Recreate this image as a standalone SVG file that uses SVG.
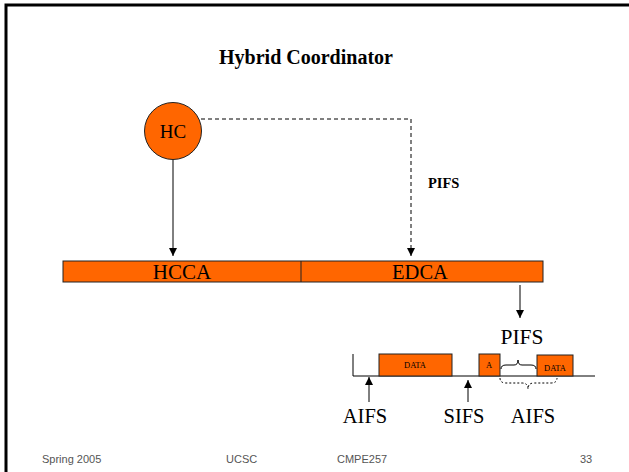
<svg xmlns="http://www.w3.org/2000/svg" width="629" height="472" viewBox="0 0 629 472">
<defs>
<marker id="ah" viewBox="0 0 10 10" refX="10" refY="5" markerWidth="8" markerHeight="8" markerUnits="userSpaceOnUse" orient="auto">
<path d="M0,0 L10,5 L0,10 z" fill="#000"/>
</marker>
</defs>
<style>
.serif{font-family:"Liberation Serif","Times New Roman",serif;fill:#000}
.foot{font-family:"Liberation Sans",Arial,sans-serif;font-size:11px;fill:#555}
.box{fill:#ff6600;stroke:#222;stroke-width:1}
.ln{stroke:#000;stroke-width:1;fill:none}
</style>
<rect width="629" height="472" fill="#fff"/>
<path d="M6,472 V5 H629" fill="none" stroke="#000" stroke-width="3"/>
<text class="serif" x="306" y="64" font-size="20" font-weight="bold" text-anchor="middle">Hybrid Coordinator</text>

<g id="connectors">
<line class="ln" x1="173" y1="159" x2="173" y2="256" marker-end="url(#ah)"/>
<path class="ln" d="M201,119 H411 V256" stroke-dasharray="4,3" marker-end="url(#ah)"/>
<line class="ln" x1="520" y1="285" x2="520" y2="318" marker-end="url(#ah)"/>
<line class="ln" x1="369" y1="402" x2="369" y2="377" marker-end="url(#ah)"/>
<line class="ln" x1="468" y1="402" x2="468" y2="380" marker-end="url(#ah)"/>
</g>

<g id="hc">
<circle cx="173" cy="131" r="28.5" class="box"/>
<text class="serif" x="173" y="138" font-size="19" text-anchor="middle">HC</text>
</g>

<text class="serif" x="428" y="188" font-size="14.5" font-weight="bold">PIFS</text>

<g id="bar">
<rect x="63" y="261" width="480" height="21" class="box"/>
<line x1="301" y1="261" x2="301" y2="282" stroke="#222" stroke-width="1"/>
<text class="serif" x="182" y="279" font-size="21" text-anchor="middle">HCCA</text>
<text class="serif" x="420" y="279" font-size="20.5" text-anchor="middle">EDCA</text>
</g>

<g id="timeline">
<text class="serif" x="522" y="344" font-size="21.5" text-anchor="middle">PIFS</text>
<path class="ln" d="M353,354 V376 H595"/>
<rect x="379" y="354" width="73" height="22" class="box"/>
<text class="serif" x="415" y="368" font-size="8.5" text-anchor="middle">DATA</text>
<rect x="479" y="354" width="21" height="22" class="box"/>
<text class="serif" x="489" y="368" font-size="8.5" text-anchor="middle">A</text>
<rect x="537" y="355" width="36" height="21" class="box"/>
<text class="serif" x="555" y="371" font-size="8.5" text-anchor="middle">DATA</text>
<path class="ln" d="M501,369 Q501,365 506,365 H514 Q518,365 518,360 Q518,365 522,365 H531 Q536,365 536,369" stroke-width="0.8"/>
<path class="ln" d="M500,378 Q500,383 506,383 H522 Q528,383 528,389 Q528,383 534,383 H551 Q557,383 557,378" stroke-dasharray="2,2" stroke-width="0.8"/>
<text class="serif" x="365" y="423" font-size="20.5" text-anchor="middle">AIFS</text>
<text class="serif" x="464" y="423" font-size="20.5" text-anchor="middle">SIFS</text>
<text class="serif" x="533" y="423" font-size="20.5" text-anchor="middle">AIFS</text>
</g>

<text class="foot" x="42" y="463">Spring 2005</text>
<text class="foot" x="226" y="463">UCSC</text>
<text class="foot" x="337" y="463">CMPE257</text>
<text class="foot" x="580" y="463">33</text>
</svg>
